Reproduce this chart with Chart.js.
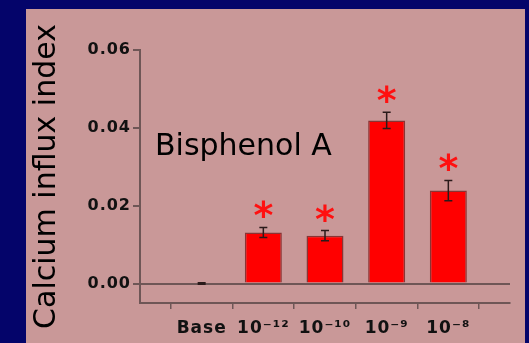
<!DOCTYPE html>
<html>
<head>
<meta charset="utf-8">
<script src="https://cdn.jsdelivr.net/npm/chart.js@4.4.0/dist/chart.umd.min.js"></script>
<style>
    html, body { margin: 0; padding: 0; }
    body { width: 529px; height: 343px; background: #04046a; position: relative; overflow: hidden; }
    #panel { position: absolute; left: 26px; top: 9px; width: 499px; height: 334px; background: #c99898; }
    canvas { display: block; }
</style>
</head>
<body>
<div id="panel"><canvas id="chart" width="499" height="334"></canvas></div>
<script>
// Categories (empty slots at each end keep the spacing of the original axis)
const categories = ['', 'Base', '10\u207B\u00B9\u00B2', '10\u207B\u00B9\u2070', '10\u207B\u2079', '10\u207B\u2078', ''];
const influx = [null, 0, 0.0131, 0.0123, 0.0419, 0.0239, null];
const influxErr = [null, 0.0002, 0.0013, 0.0013, 0.0021, 0.0026, null];
const significant = [false, false, true, true, true, true, false];
const yTicks = [0, 0.02, 0.04, 0.06];
const yTitle = 'Calcium influx index';
const annotation = 'Bisphenol A';
const annotationValue = 0.0329;

const axisColor = '#6e5656';
const fontFamily = '"DejaVu Sans", Verdana, sans-serif';

// Error bars, asterisks and the compound name
const overlayPlugin = {
    id: 'overlay',
    afterDatasetsDraw(chart) {
        const ctx = chart.ctx;
        const meta = chart.getDatasetMeta(0);
        const yScale = chart.scales.y;
        ctx.save();
        meta.data.forEach((bar, i) => {
            if (influx[i] === null) return;
            const x = bar.x;
            const top = yScale.getPixelForValue(influx[i] + influxErr[i]);
            const bottom = yScale.getPixelForValue(influx[i] - influxErr[i]);
            ctx.strokeStyle = '#2a1a1a';
            ctx.lineWidth = 1.5;
            ctx.beginPath();
            ctx.moveTo(x, top); ctx.lineTo(x, bottom);
            ctx.moveTo(x - 4, top); ctx.lineTo(x + 4, top);
            ctx.moveTo(x - 4, bottom); ctx.lineTo(x + 4, bottom);
            ctx.stroke();
            if (significant[i]) {
                ctx.font = 'bold 38px ' + fontFamily;
                ctx.fillStyle = '#ff1010';
                ctx.textAlign = 'center';
                ctx.textBaseline = 'alphabetic';
                const m = ctx.measureText('*');
                const cy = top - 18;
                const base = cy + (m.actualBoundingBoxAscent - m.actualBoundingBoxDescent) / 2;
                ctx.fillText('*', x, base);
            }
        });
        ctx.font = '30px ' + fontFamily;
        ctx.fillStyle = '#000';
        ctx.textAlign = 'left';
        ctx.textBaseline = 'alphabetic';
        ctx.fillText(annotation, chart.chartArea.left + 15, yScale.getPixelForValue(annotationValue));
        ctx.restore();
        // tick labels are drawn after this hook (z: 1) with wider tracking
        ctx.letterSpacing = '1px';
    },
    afterDraw(chart) {
        chart.ctx.letterSpacing = '0px';
    }
};

new Chart(document.getElementById('chart'), {
    type: 'bar',
    data: {
        labels: categories,
        datasets: [{
            data: influx,
            backgroundColor: '#ff0000',
            borderColor: '#8a3434',
            borderWidth: 1.5,
            barPercentage: 0.6,
            categoryPercentage: 1
        }]
    },
    options: {
        responsive: false,
        animation: false,
        layout: { padding: { top: 41, right: 15, bottom: 0, left: 0 } },
        plugins: {
            legend: { display: false },
            tooltip: { enabled: false }
        },
        scales: {
            x: {
                type: 'category',
                offset: false,
                afterFit: s => { s.height = 40; },
                grid: { drawOnChartArea: false, color: axisColor, tickLength: 6, lineWidth: 1.5 },
                border: { color: axisColor, width: 2 },
                ticks: {
                    autoSkip: false,
                    maxRotation: 0,
                    padding: 9,
                    z: 1,
                    color: '#111',
                    font: { family: fontFamily, size: 17, weight: 'bold' }
                }
            },
            y: {
                min: -0.005,
                max: 0.06,
                afterFit: s => { s.width = 114; },
                afterBuildTicks: s => { s.ticks = yTicks.map(v => ({ value: v })); },
                grid: {
                    drawOnChartArea: true,
                    color: c => (c.tick && c.tick.value === 0) ? axisColor : 'rgba(0,0,0,0)',
                    tickColor: axisColor,
                    tickLength: 7,
                    lineWidth: 2
                },
                border: { color: axisColor, width: 2 },
                ticks: {
                    padding: 2,
                    z: 1,
                    color: '#111',
                    font: { family: fontFamily, size: 16, weight: 'bold' },
                    callback: v => v.toFixed(2)
                },
                title: {
                    display: true,
                    text: yTitle,
                    color: '#000',
                    padding: { top: 3, bottom: 0 },
                    font: { family: fontFamily, size: 30 }
                }
            }
        }
    },
    plugins: [overlayPlugin]
});
</script>
</body>
</html>
